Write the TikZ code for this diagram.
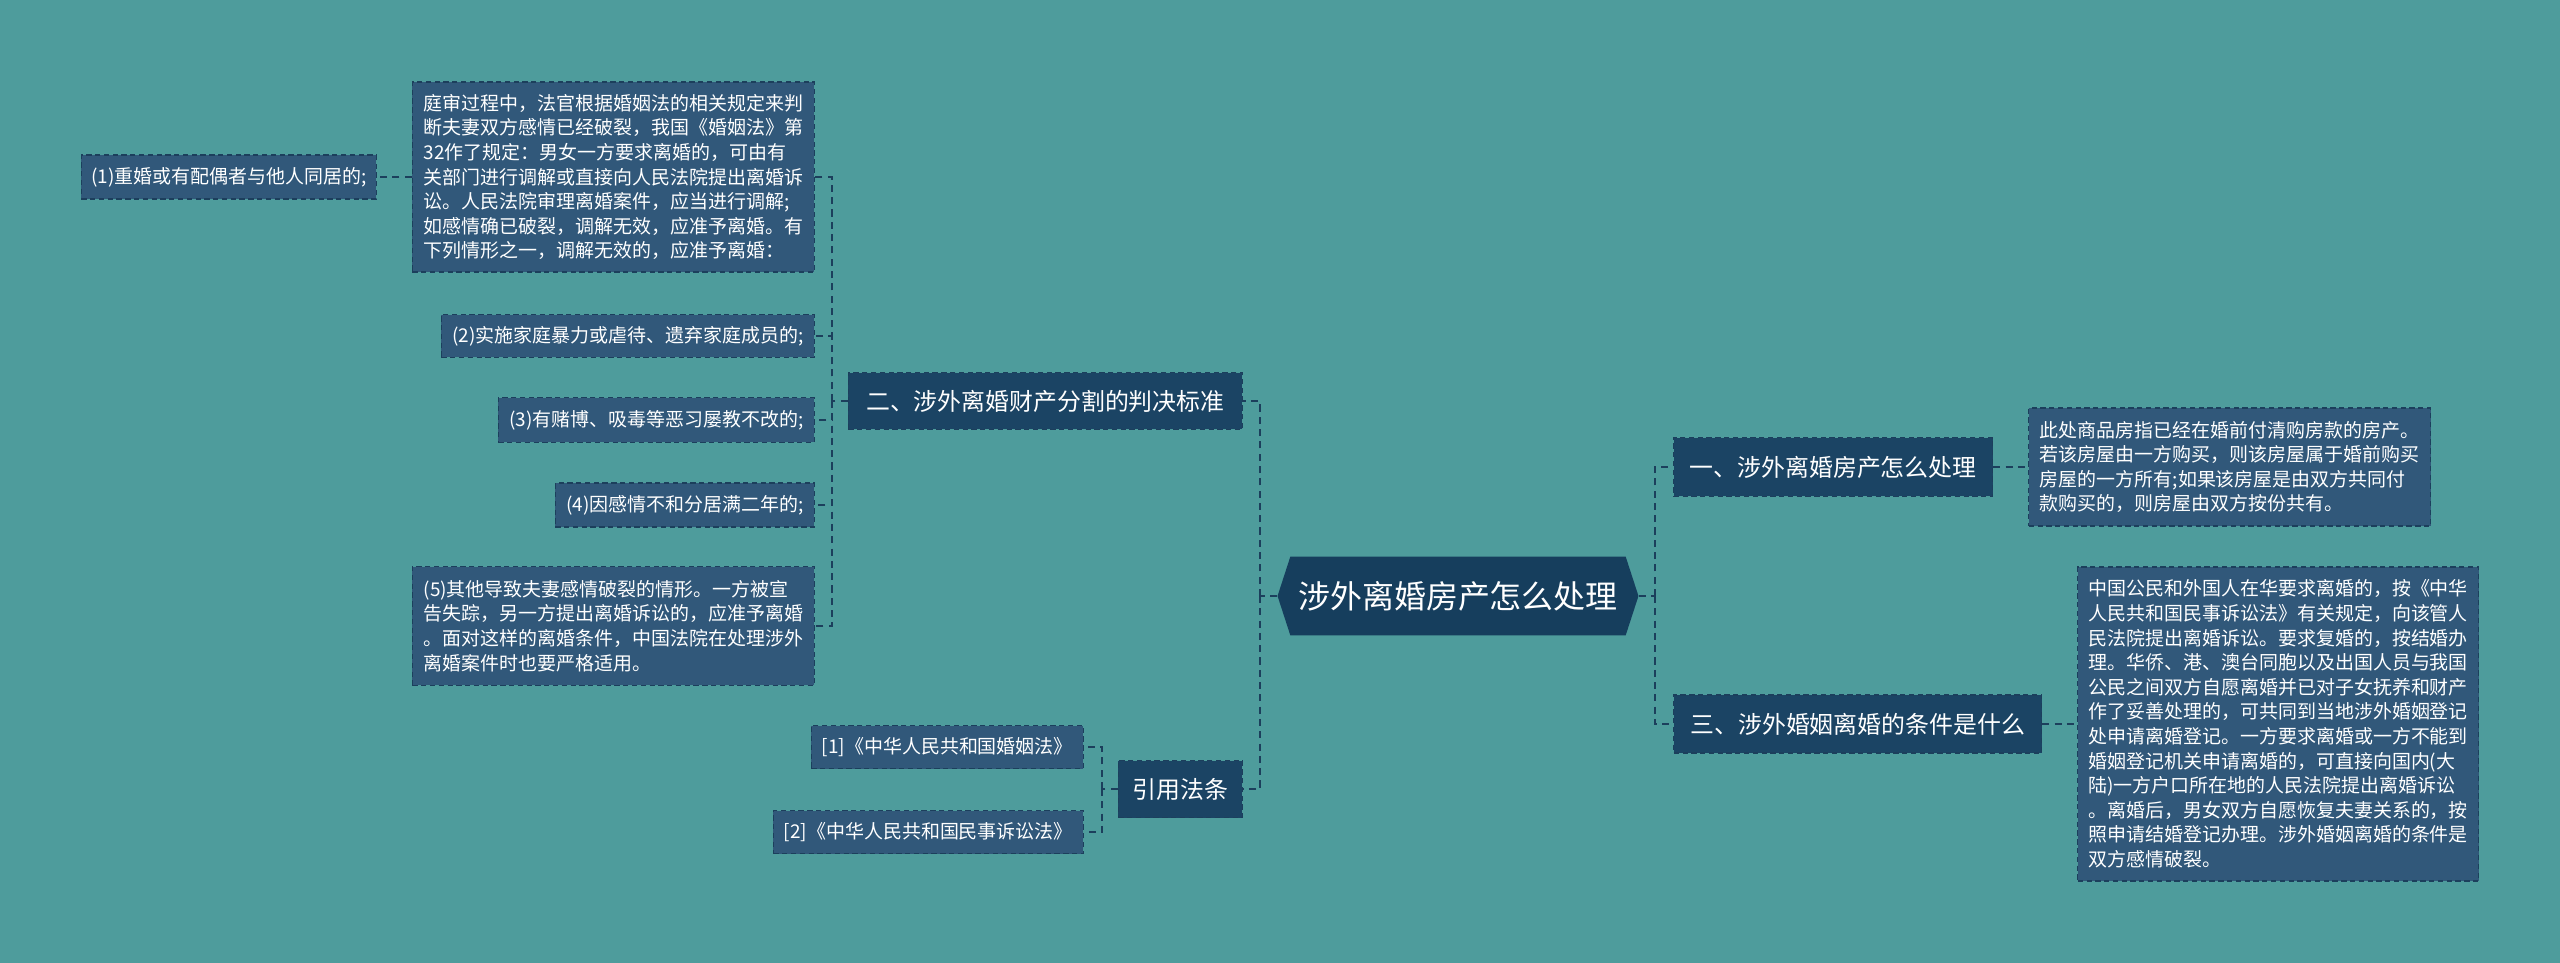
\documentclass[tikz,border=0pt]{standalone}
\usepackage{fontspec}
\setmainfont{Noto Sans CJK SC}
\usepackage{tikz}
\usetikzlibrary{positioning,shapes.symbols}
\definecolor{sea}{HTML}{4E9C9C}
\definecolor{leafbg}{HTML}{31587A}
\definecolor{branchbg}{HTML}{1B4464}
\definecolor{rootbg}{HTML}{163E5D}
\definecolor{edge}{HTML}{1C3F5C}
\newcommand{\leaffont}{\fontsize{10.8}{14}\selectfont}
\newcommand{\branchfont}{\fontsize{13.6}{16}\selectfont}
\newcommand{\rootfont}{\fontsize{18.2}{22}\selectfont}

\begin{document}
\begin{tikzpicture}[
  x=0.02cm, y=-0.02cm,
  leaf/.style={rectangle, draw=edge, fill=leafbg, line width=0.8pt, dash pattern=on 3pt off 2pt,
    text=white, font=\leaffont, align=left, inner sep=0pt},
  branch/.style={leaf, fill=branchbg, font=\branchfont},
  root/.style={signal, signal to=east and west, signal pointer angle=144, fill=rootbg,
    text=white, font=\rootfont, inner sep=0pt},
  link/.style={draw=edge, line width=1.4pt, dash pattern=on 4pt off 3pt},
]
  \fill[sea] (0,0) rectangle (2560,963);

  \node[root, minimum width=7.22cm, minimum height=1.58cm] (root) at (1458,596) {涉外离婚房产怎么处理};

  \node[branch, anchor=east, minimum width=7.88cm, minimum height=1.14cm] (div) at (1243,401) {二、涉外离婚财产分割的判决标准};
  \node[branch, anchor=east, minimum width=2.48cm, minimum height=1.14cm] (cite) at (1243,789) {引用法条};
  \node[branch, anchor=west, minimum width=6.38cm, minimum height=1.18cm] (house) at (1673,467) {一、涉外离婚房产怎么处理};
  \node[branch, anchor=west, minimum width=7.36cm, minimum height=1.16cm] (cond) at (1673,724) {三、涉外婚姻离婚的条件是什么};

  \node[leaf, anchor=east, minimum width=8.04cm, minimum height=3.8cm] (trial) at (815,177) {庭审过程中，法官根据婚姻法的相关规定来判\\断夫妻双方感情已经破裂，我国《婚姻法》第\\32作了规定：男女一方要求离婚的，可由有\\关部门进行调解或直接向人民法院提出离婚诉\\讼。人民法院审理离婚案件，应当进行调解;\\如感情确已破裂，调解无效，应准予离婚。有\\下列情形之一，调解无效的，应准予离婚：};
  \node[leaf, anchor=east, minimum width=5.9cm, minimum height=0.88cm] (c1) at (377,177) {(1)重婚或有配偶者与他人同居的;};
  \node[leaf, anchor=east, minimum width=7.46cm, minimum height=0.86cm] (c2) at (815,336) {(2)实施家庭暴力或虐待、遗弃家庭成员的;};
  \node[leaf, anchor=east, minimum width=6.32cm, minimum height=0.9cm] (c3) at (815,420) {(3)有赌博、吸毒等恶习屡教不改的;};
  \node[leaf, anchor=east, minimum width=5.18cm, minimum height=0.88cm] (c4) at (815,505) {(4)因感情不和分居满二年的;};
  \node[leaf, anchor=east, minimum width=8.04cm, minimum height=2.38cm] (c5) at (815,626) {(5)其他导致夫妻感情破裂的情形。一方被宣\\告失踪，另一方提出离婚诉讼的，应准予离婚\\。面对这样的离婚条件，中国法院在处理涉外\\离婚案件时也要严格适用。};

  \node[leaf, anchor=east, minimum width=5.44cm, minimum height=0.86cm] (law1) at (1084,747) {[1]《中华人民共和国婚姻法》};
  \node[leaf, anchor=east, minimum width=6.2cm, minimum height=0.86cm] (law2) at (1084,832) {[2]《中华人民共和国民事诉讼法》};

  \node[leaf, anchor=west, minimum width=8.04cm, minimum height=2.36cm] (buy) at (2028,467) {此处商品房指已经在婚前付清购房款的房产。\\若该房屋由一方购买，则该房屋属于婚前购买\\房屋的一方所有;如果该房屋是由双方共同付\\款购买的，则房屋由双方按份共有。};
  \node[leaf, anchor=west, minimum width=8.02cm, minimum height=6.28cm] (rule) at (2077,724) {中国公民和外国人在华要求离婚的，按《中华\\人民共和国民事诉讼法》有关规定，向该管人\\民法院提出离婚诉讼。要求复婚的，按结婚办\\理。华侨、港、澳台同胞以及出国人员与我国\\公民之间双方自愿离婚并已对子女抚养和财产\\作了妥善处理的，可共同到当地涉外婚姻登记\\处申请离婚登记。一方要求离婚或一方不能到\\婚姻登记机关申请离婚的，可直接向国内(大\\陆)一方户口所在地的人民法院提出离婚诉讼\\。离婚后，男女双方自愿恢复夫妻关系的，按\\照申请结婚登记办理。涉外婚姻离婚的条件是\\双方感情破裂。};

  \coordinate (jl) at (1260,596);
  \coordinate (jr) at (1655,596);
  \coordinate (jd) at (832,401);
  \coordinate (jc) at (1102,789);

  \draw[link] (root.west) -- (jl);
  \draw[link] (jl) |- (div.east);
  \draw[link] (jl) |- (cite.east);
  \draw[link] (root.east) -- (jr);
  \draw[link] (jr) |- (house.west);
  \draw[link] (jr) |- (cond.west);
  \draw[link] (div.west) -- (jd);
  \draw[link] (jd) |- (trial.east);
  \draw[link] (jd) |- (c2.east);
  \draw[link] (jd) |- (c3.east);
  \draw[link] (jd) |- (c4.east);
  \draw[link] (jd) |- (c5.east);
  \draw[link] (trial.west) -- (c1.east);
  \draw[link] (cite.west) -- (jc);
  \draw[link] (jc) |- (law1.east);
  \draw[link] (jc) |- (law2.east);
  \draw[link] (house.east) -- (buy.west);
  \draw[link] (cond.east) -- (rule.west);
\end{tikzpicture}
\end{document}
